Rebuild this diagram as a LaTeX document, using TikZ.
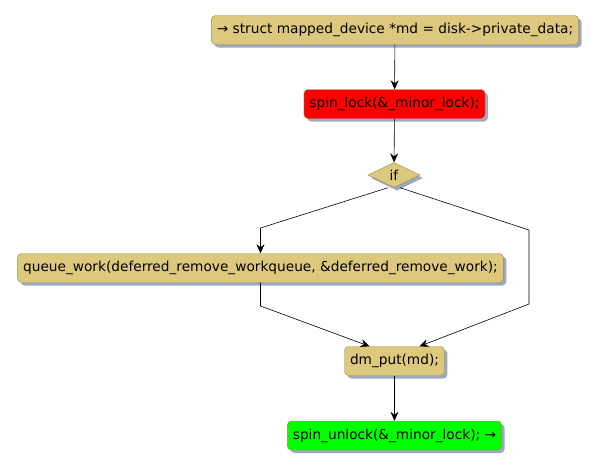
\documentclass[tikz,border=0pt]{standalone}
\usepackage{fontspec}
\setmainfont{DejaVu Sans}
\usepackage{xcolor}
\usetikzlibrary{shapes.geometric, arrows.meta, positioning, calc, shadows}
\definecolor{acttan}{HTML}{DDC97E}
\definecolor{actborder}{HTML}{A08A3C}
\definecolor{actshadow}{HTML}{9DA9C2}

\begin{document}
\begin{tikzpicture}[x=1pt, y=-1pt,
    box/.style={draw=actborder, rounded corners=4pt, minimum height=29pt, inner xsep=5.5pt, fill=acttan, font=\fontsize{13.7}{16}\selectfont,
        drop shadow={shadow xshift=3pt, shadow yshift=-3pt, fill=actshadow, opacity=1}},
    decision/.style={draw=actborder, diamond, aspect=2.1, inner sep=1pt, minimum width=52pt, minimum height=25pt, fill=acttan, font=\fontsize{13.7}{16}\selectfont,
        drop shadow={shadow xshift=3pt, shadow yshift=-3pt, fill=actshadow, opacity=1}},
    arrow/.style={-{Stealth[length=9pt, width=8pt, inset=3pt]}, semithick}
]
    \useasboundingbox (0,0) rectangle (595,469);
    \node[box] (start) at (395,30) {→ struct mapped\_device *md = disk->private\_data;};
    \node[box, fill=red] (lock) at (394.5,104) {spin\_lock(\&\_minor\_lock);};
    \node[decision] (cond) at (394,175) {if};
    \node[box] (work) at (260.5,268) {queue\_work(deferred\_remove\_workqueue, \&deferred\_remove\_work);};
    \node[box] (put) at (394.5,361) {dm\_put(md);};
    \node[box, fill=green] (unlock) at (394.5,435.5) {spin\_unlock(\&\_minor\_lock); →};
    \coordinate (lbend) at (260.5,228);
    \coordinate (rbend) at (529,230);
    \coordinate (ljoin) at (260.5,306);
    \coordinate (rjoin) at (529,304);

    \draw[arrow] (start) -- (lock);
    \draw[arrow] (lock) -- (cond);
    \draw[arrow] ([xshift=-6pt]cond.south) -- (lbend) -- (work);
    \draw[semithick] ([xshift=6pt]cond.south) -- (rbend) -- (rjoin);
    \draw[arrow] (work) -- (ljoin) -- ([xshift=-25pt]put.north);
    \draw[arrow] (rjoin) -- ([xshift=25pt]put.north);
    \draw[arrow] (put) -- (unlock);
\end{tikzpicture}
\end{document}
